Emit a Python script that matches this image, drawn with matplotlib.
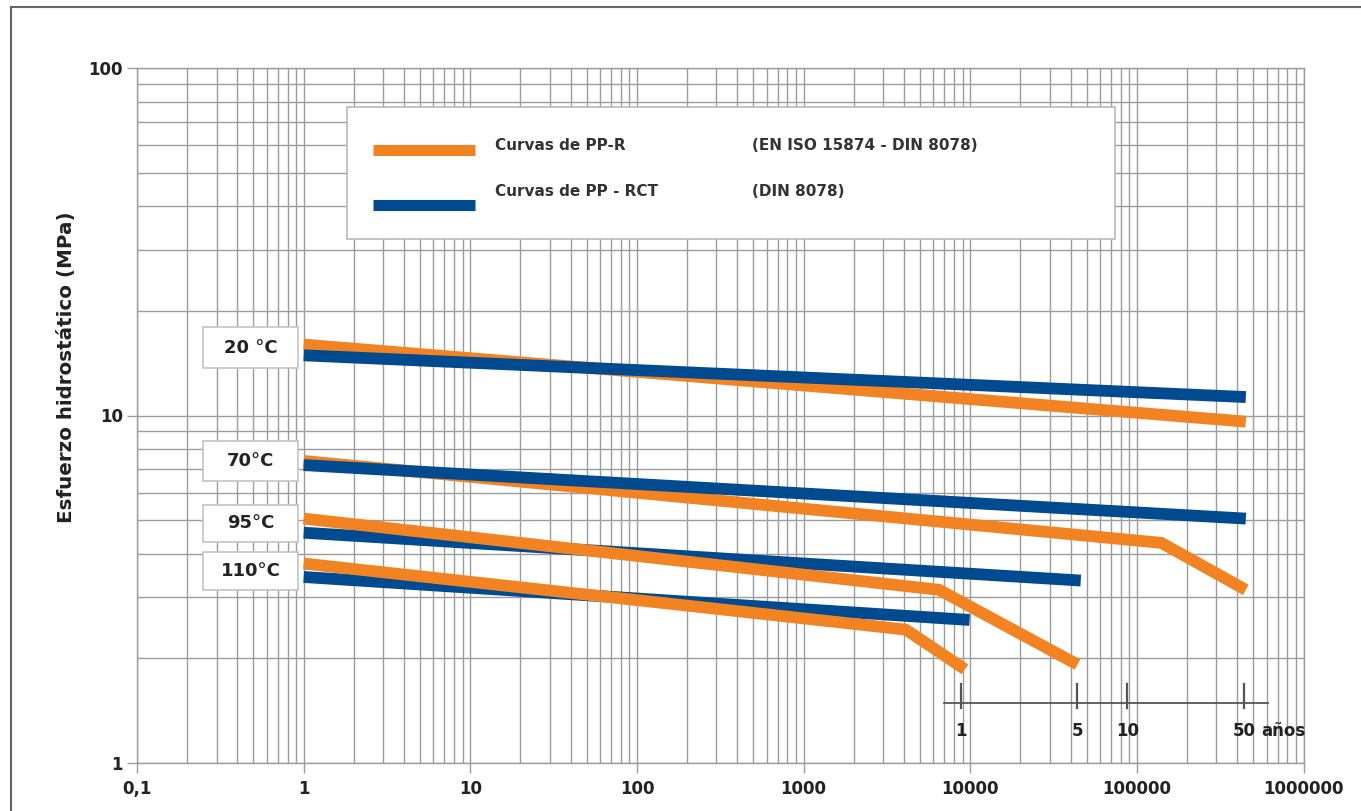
import matplotlib
matplotlib.use("Agg")
import matplotlib.pyplot as plt
from matplotlib.patches import Rectangle
from matplotlib.lines import Line2D
from matplotlib.ticker import FixedLocator, LogLocator, NullFormatter
from matplotlib.transforms import offset_copy

W, H = 1361, 811

# data: time in hours, stress in MPa
t_20 = [1, 4.5e5]
ppr_20 = [16.0, 9.6]
rct_20 = [14.9, 11.3]

t_ppr_70 = [1, 1.4e5, 4.5e5]
ppr_70 = [7.4, 4.3, 3.15]
t_rct_70 = [1, 4.5e5]
rct_70 = [7.2, 5.05]

t_ppr_95 = [1, 6500, 4.4e4]
ppr_95 = [5.05, 3.15, 1.92]
t_rct_95 = [1, 4.6e4]
rct_95 = [4.6, 3.35]

t_ppr_110 = [1, 4100, 9300]
ppr_110 = [3.75, 2.42, 1.86]
t_rct_110 = [1, 9900]
rct_110 = [3.43, 2.58]

x_ticks = [0.1, 1, 10, 100, 1000, 10000, 100000, 1000000]
x_labels = ["0,1", "1", "10", "100", "1000", "10000", "100000", "1000000"]
y_ticks = [1, 10, 100]
y_labels = ["1", "10", "100"]

years = [1, 5, 10, 50]
year_labels = ["1", "5", "10", "50"]
year_unit = "años"
hours_per_year = 8760

temp_labels = ["20 °C", "70°C", "95°C", "110°C"]
# label boxes (pixel boxes x0, y0, x1, y1)
temp_boxes = [(203, 327, 298, 368), (203, 441, 298, 481), (203, 505, 298, 542), (203, 552, 298, 590)]

orange = "#f28322"
blue = "#004a8f"
grid_c = "#9c9c9c"
txt_c = "#222222"

fig = plt.figure(figsize=(W / 100, H / 100), dpi=100)
fig.patch.set_facecolor("white")
ax = fig.add_axes([137 / W, 1 - 763 / H, (1303.6 - 137) / W, (763 - 68) / H])
ax.set_xscale("log")
ax.set_yscale("log")
ax.set_xlim(0.1, 1e6)
ax.set_ylim(1, 100)

ax.xaxis.set_major_locator(FixedLocator(x_ticks))
ax.set_xticklabels(x_labels)
ax.yaxis.set_major_locator(FixedLocator(y_ticks))
ax.set_yticklabels(y_labels)
ax.xaxis.set_minor_locator(LogLocator(base=10, subs=range(2, 10), numticks=20))
ax.yaxis.set_minor_locator(LogLocator(base=10, subs=range(2, 10), numticks=20))
ax.xaxis.set_minor_formatter(NullFormatter())
ax.yaxis.set_minor_formatter(NullFormatter())
ax.grid(True, which="both", color=grid_c, lw=1.0)
ax.tick_params(which="minor", length=0)
ax.tick_params(which="major", length=7, width=1, color=grid_c, pad=3)
ax.tick_params(axis="x", pad=5)
for lab in ax.get_xticklabels() + ax.get_yticklabels():
    lab.set_fontweight("bold")
    lab.set_fontsize(12)
    lab.set_color(txt_c)
for s in ax.spines.values():
    s.set_color(grid_c)
    s.set_linewidth(1.0)

lw = 8.5
kw = dict(lw=lw, solid_capstyle="butt", solid_joinstyle="miter")
ax.plot(t_20, ppr_20, color=orange, **kw)
ax.plot(t_20, rct_20, color=blue, **kw)
ax.plot(t_ppr_70, ppr_70, color=orange, **kw)
ax.plot(t_rct_70, rct_70, color=blue, **kw)
ax.plot(t_rct_95, rct_95, color=blue, **kw)
ax.plot(t_ppr_95, ppr_95, color=orange, **kw)
ax.plot(t_rct_110, rct_110, color=blue, **kw)
ax.plot(t_ppr_110, ppr_110, color=orange, **kw)

# year scale inside the plot
y_year = 1.49
ax.plot([7000, 6.1e5], [y_year, y_year], color="#555555", lw=1.3)
for yr, lab in zip(years, year_labels):
    h = yr * hours_per_year
    ax.plot([h, h], [1.44, 1.69], color="#555555", lw=1.6)
    ax.text(h, 1.24, lab, ha="center", va="center", fontsize=12, fontweight="bold", color=txt_c)
last_h = years[-1] * hours_per_year
ax.text(last_h, 1.24, year_unit, ha="left", va="center", fontsize=12, fontweight="bold",
        color=txt_c, transform=offset_copy(ax.transData, fig=fig, x=17, y=0, units="dots"))

# figure-level decorations
def px_rect(x0, y0, x1, y1, **kw):
    return Rectangle((x0 / W, 1 - y1 / H), (x1 - x0) / W, (y1 - y0) / H,
                     transform=fig.transFigure, **kw)

# legend box
fig.add_artist(px_rect(347, 107, 1115, 239, facecolor="white", edgecolor="#b8b8b8", lw=1.2, zorder=5))
for yy, col in [(150, orange), (205, blue)]:
    fig.add_artist(Line2D([373 / W, 475 / W], [1 - yy / H, 1 - yy / H], color=col, lw=8,
                          solid_capstyle="butt", transform=fig.transFigure, zorder=6))
leg_kw = dict(fontsize=11, fontweight="bold", color="#333333", va="center", zorder=7)
fig.text(495 / W, 1 - 145 / H, "Curvas de PP-R", **leg_kw)
fig.text(752 / W, 1 - 145 / H, "(EN ISO 15874 - DIN 8078)", **leg_kw)
fig.text(495 / W, 1 - 192 / H, "Curvas de PP - RCT", **leg_kw)
fig.text(752 / W, 1 - 192 / H, "(DIN 8078)", **leg_kw)

# temperature boxes
for lab, (x0, y0, x1, y1) in zip(temp_labels, temp_boxes):
    fig.add_artist(px_rect(x0, y0, x1, y1, facecolor="white", edgecolor="#c4c4c4", lw=1.2, zorder=5))
    fig.text((x0 + x1) / 2 / W, 1 - (y0 + y1) / 2 / H, lab, fontsize=13, fontweight="bold",
             color=txt_c, ha="center", va="center", zorder=6)

fig.text(67 / W, 1 - 367 / H, "Esfuerzo hidrostático (MPa)", rotation=90, fontsize=14.3,
         fontweight="bold", color=txt_c, ha="center", va="center")

# outer frame
fig.add_artist(Line2D([11 / W, 1], [1 - 7 / H, 1 - 7 / H], color="#666666", lw=1.5,
                      transform=fig.transFigure))
fig.add_artist(Line2D([11 / W, 11 / W], [0, 1 - 7 / H], color="#666666", lw=1.5,
                      transform=fig.transFigure))

fig.savefig("out.png", dpi=100)
